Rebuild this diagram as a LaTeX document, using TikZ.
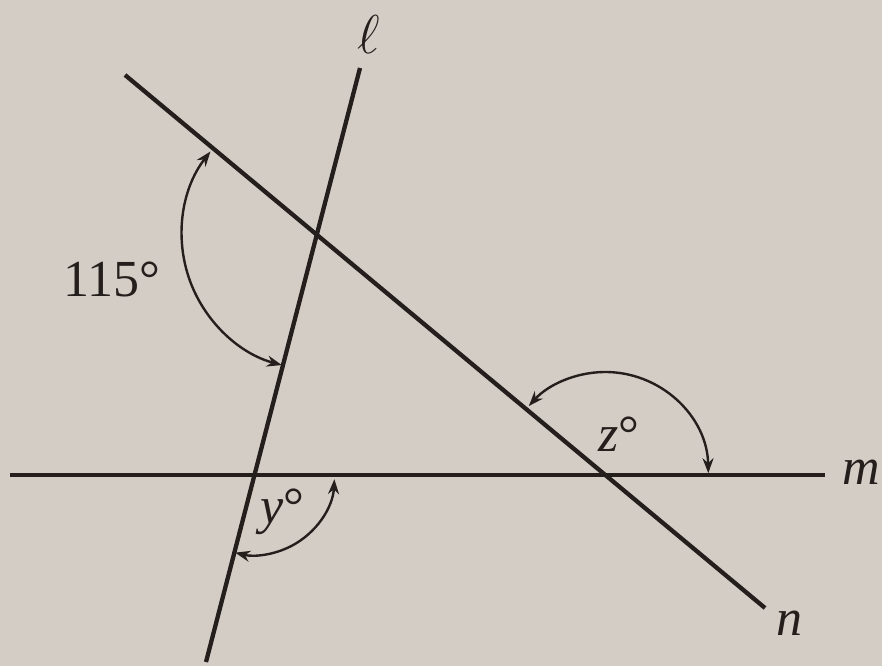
\documentclass[tikz,border=0pt]{standalone}
\usepackage{fontspec}
\setmainfont{Liberation Serif}
\usetikzlibrary{arrows.meta}
\definecolor{paper}{RGB}{212,205,198}
\definecolor{ink}{RGB}{36,31,28}
\begin{document}
\begin{tikzpicture}[x=1pt,y=1pt,
  line/.style={ink, line width=4.3pt},
  anglearc/.style={ink, line width=2.4pt, {Stealth[length=15pt,width=11pt]}-{Stealth[length=15pt,width=11pt]}},
  lbl/.style={font=\fontsize{52}{60}\selectfont, text=ink, inner sep=0pt}]
\fill[paper] (0,0) rectangle (882,666);
\useasboundingbox (0,0) rectangle (882,666);
% lines
\coordinate (lA) at (206,4);   \coordinate (lB) at (360,598);
\coordinate (nA) at (125,591); \coordinate (nB) at (765,58);
\coordinate (mA) at (10,191);  \coordinate (mB) at (825,191);
\draw[line] (lA) -- (lB);
\draw[line] (nA) -- (nB);
\draw[line] (mA) -- (mB);
\coordinate (P) at (intersection of lA--lB and nA--nB);
\coordinate (Q) at (intersection of nA--nB and mA--mB);
\coordinate (R) at (intersection of lA--lB and mA--mB);
% angle arcs
\draw[anglearc] ([shift={(142:135)}]P) arc[start angle=142, end angle=255, radius=135];
\draw[anglearc] ([shift={(1:103)}]Q) arc[start angle=1, end angle=138, radius=103];
\draw[anglearc] ([shift={(-3:80)}]R) arc[start angle=-3, end angle=-104, radius=80];
% labels
\node[lbl, anchor=base] (a115) at (112,369) {115°};
\node[lbl, anchor=base] (az) at (619,214) {\textit{z}°};
\node[lbl, anchor=base] (ay) at (282,142) {\textit{y}°};
\node[text=ink, inner sep=0pt, font=\Huge, scale=2.2] (ll) at (369,631) {$\ell$};
\node[lbl, anchor=base] (lm) at (861,181) {\textit{m}};
\node[lbl, anchor=base] (ln) at (789,31) {\textit{n}};
\end{tikzpicture}
\end{document}
